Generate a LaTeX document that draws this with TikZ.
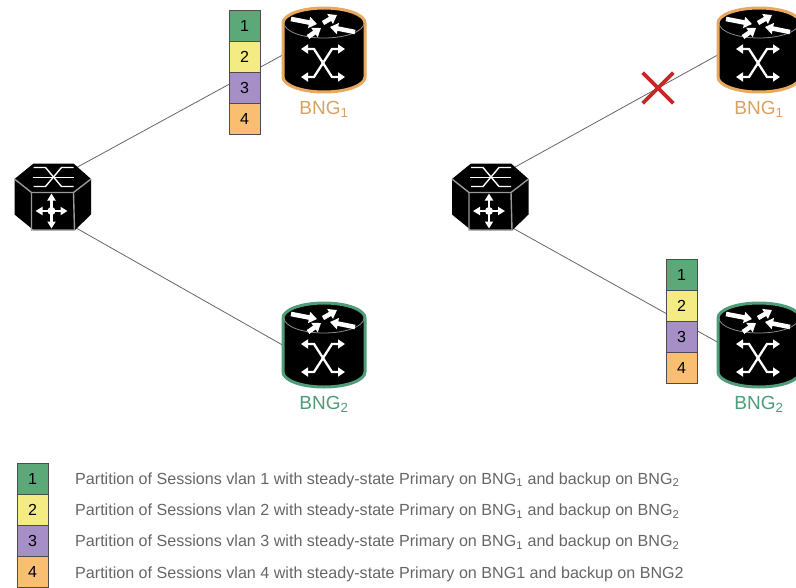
\documentclass[tikz,border=0pt]{standalone}
\usepackage{fontspec}
\setmainfont{Liberation Sans}
\usepackage{xcolor}
\usetikzlibrary{positioning,arrows.meta,shapes.misc}

\definecolor{partgreen}{HTML}{5BA878}
\definecolor{partyellow}{HTML}{F5EB85}
\definecolor{partpurple}{HTML}{A68FC6}
\definecolor{partorange}{HTML}{F9BE72}
\definecolor{bngorange}{HTML}{E8A85E}
\definecolor{bnggreen}{HTML}{4E9C78}

\tikzset{
  anchorbox/.style={minimum width=#1,minimum height=84,inner sep=0,outer sep=0},
  switchbox/.style={minimum width=77,minimum height=67,inner sep=0,outer sep=0},
  partbox/.style={draw=black!70,line width=0.9,fill=#1,minimum width=31,minimum height=31,
    inner sep=0,outer sep=0,font=\fontsize{16}{18}\selectfont},
  link/.style={draw=black!60,line width=0.8,shorten <=-10pt},
  bnglabel/.style={font=\fontsize{19}{21}\selectfont,inner sep=0},
  legendtext/.style={anchor=west,inner sep=0,text=black!60,font=\fontsize{16.1}{18}\selectfont},
  whitearrow/.style={white,line width=2.3,{Triangle[width=9,length=7]}-{Triangle[width=9,length=7]}},
  hexarrow/.style={white,line width=2.3,{Triangle[width=8,length=7]}-{Triangle[width=8,length=7]}},
  wedge/.style={white,line width=4.6,-{Triangle[width=11,length=8]}},
  router/.pic={
    \draw[fill=black,draw=#1,line width=3] (-41,27) arc (180:0:41 and 15) -- (41,-27)
      arc (360:180:41 and 15) -- cycle;
    \draw[black!45,line width=0.8] (-40,27) arc (180:360:40 and 15);
    \draw[wedge] (-33,31) -- (-7,26);
    \draw[wedge] (-1,27) -- (13,35);
    \draw[wedge] (31,18) -- (6,23);
    \draw[wedge] (-16,13) -- (-3,22);
    \draw[whitearrow] (-23,1) -- (-10,1) -- (8,-27) -- (21,-27);
    \draw[whitearrow] (21,1) -- (8,1) -- (-10,-27) -- (-23,-27);
  },
  hexswitch/.pic={
    \fill[black] (-38,17.5) -- (-19,33) -- (21,33) -- (38.5,17.5) -- (38.5,-18)
      -- (22.5,-33.5) -- (-19,-33.5) -- (-38,-18) -- cycle;
    \draw[black!40,line width=1.4] (-38,17.5) -- (-21,4) -- (21,4) -- (38.5,17.5);
    \draw[black!40,line width=1.4] (-21,4) -- (-21,-33.5) -- (22,-33.5) -- (21,4);
    \draw[white,line width=1.4] (-19,29) -- (-7,29) -- (9,10) -- (21,10);
    \draw[white,line width=1.4] (21,29) -- (9,29) -- (-7,10) -- (-19,10);
    \draw[white,line width=1.4] (-20,19) -- (21,19);
    \draw[hexarrow] (-17,-14.5) -- (15,-14.5);
    \draw[hexarrow] (-1,-32) -- (-1,3);
    \fill[white] (-1,-14.5) circle (4);
  },
}

\begin{document}
\begin{tikzpicture}[x=1pt,y=1pt]
\useasboundingbox (0,-587) rectangle (796,0);
% anchors for the links
\node[switchbox] (hexa) at (52.5,-196.5) {};
\node[switchbox] (hexb) at (490,-196.5) {};
\node[anchorbox=83] (bnga) at (324,-50) {};
\node[anchorbox=83] (bngb) at (324,-345) {};
\node[anchorbox=83] (bngc) at (759,-50) {};
\node[anchorbox=83] (bngd) at (759,-345) {};
% links
\draw[link] (hexa.46) -- (bnga.187);
\draw[link] (hexa.309) -- (bngb.180);
\draw[link] (hexb.46) -- (bngc.187);
\draw[link] (hexb.308) -- (bngd.176);
% devices
\pic at (hexa) {hexswitch};
\pic at (hexb) {hexswitch};
\pic at (bnga) {router=bngorange};
\pic at (bngb) {router=bnggreen};
\pic at (bngc) {router=bngorange};
\pic at (bngd) {router=bnggreen};
\node[bnglabel,text=bngorange!85!gray,below=9pt of bnga] (labela) {BNG\textsubscript{1}};
\node[bnglabel,text=bnggreen,below=9pt of bngb] (labelb) {BNG\textsubscript{2}};
\node[bnglabel,text=bngorange!85!gray,below=9pt of bngc] (labelc) {BNG\textsubscript{1}};
\node[bnglabel,text=bnggreen,below=9pt of bngd] (labeld) {BNG\textsubscript{2}};
% stack at the primary BNG, left
\node[partbox=partgreen] (lefta) at (244.5,-26) {1};
\node[partbox=partyellow,below=0pt of lefta] (leftb) {2};
\node[partbox=partpurple,below=0pt of leftb] (leftc) {3};
\node[partbox=partorange,below=0pt of leftc] (leftd) {4};
% stack after the failure, right
\node[partbox=partgreen] (righta) at (681.5,-275) {1};
\node[partbox=partyellow,below=0pt of righta] (rightb) {2};
\node[partbox=partpurple,below=0pt of rightb] (rightc) {3};
\node[partbox=partorange,below=0pt of rightc] (rightd) {4};
% failed link
\node[cross out,draw=red!75!black!85,line width=3.6,minimum width=27,minimum height=27,inner sep=0] (cutmark) at (658,-88) {};
% legend
\node[partbox=partgreen] (keya) at (32.5,-479) {1};
\node[partbox=partyellow,below=0pt of keya] (keyb) {2};
\node[partbox=partpurple,below=0pt of keyb] (keyc) {3};
\node[partbox=partorange,below=0pt of keyc] (keyd) {4};
\foreach \n in {1,2,3}
  \node[legendtext] (text\n) at (75,{-480-31.3*(\n-1)}) {Partition of Sessions vlan \n{} with steady-state Primary on BNG\textsubscript{1} and backup on BNG\textsubscript{2}};
\node[legendtext] (text4) at (75,-574) {Partition of Sessions vlan 4 with steady-state Primary on BNG1 and backup on BNG2};
\end{tikzpicture}
\end{document}
